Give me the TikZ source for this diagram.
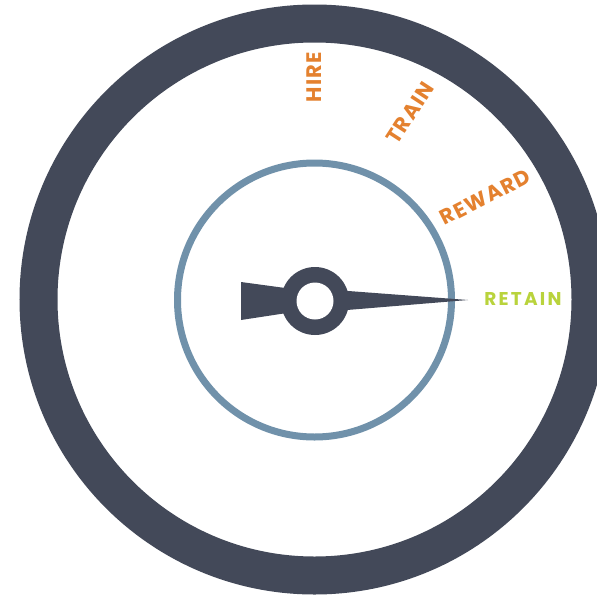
\documentclass[tikz,border=0pt]{standalone}
\usepackage{fontspec}
\newfontfamily\labfont{Poppins}[LetterSpace=6]
\newfontfamily\labfontwide{Poppins}[LetterSpace=12]
\definecolor{dial}{HTML}{434959}
\definecolor{ringblue}{HTML}{7091AA}
\definecolor{lborange}{HTML}{E4812F}
\definecolor{lbgreen}{HTML}{B9D33C}
\tikzset{
  lab/.style={inner sep=0pt, text=lborange, font=\labfont\bfseries\fontsize{21}{21}\selectfont},
  labgreen/.style={inner sep=0pt, text=lbgreen, font=\labfontwide\bfseries\fontsize{18.5}{18.5}\selectfont},
}
\begin{document}
\begin{tikzpicture}[x=1pt,y=-1pt]
\useasboundingbox (0,0) rectangle (597,600);
\fill[white] (0,0) rectangle (597,600);
% outer dial ring
\draw[dial, line width=38pt] (314.5,299.5) circle[radius=276];
% inner blue ring
\draw[ringblue, line width=7pt] (314.5,300) circle[radius=137];
% tail and needle
\fill[dial] (241,282) -- (241,320) -- (300,311) -- (300,290) -- cycle;
\fill[dial] (335,290) -- (468,300) -- (335,311) -- cycle;
% hub
\fill[dial] (315,301) circle[radius=34];
\fill[white] (315,301) circle[radius=18.5];
% labels
\node[lab, rotate=90] (hire) at (314,77) {HIRE};
\node[lab, rotate=57] (train) at (410,113) {TRAIN};
\node[lab, rotate=27] (reward) at (485,197) {REWARD};
\node[labgreen] (retain) at (523,299) {RETAIN};
\end{tikzpicture}
\end{document}
